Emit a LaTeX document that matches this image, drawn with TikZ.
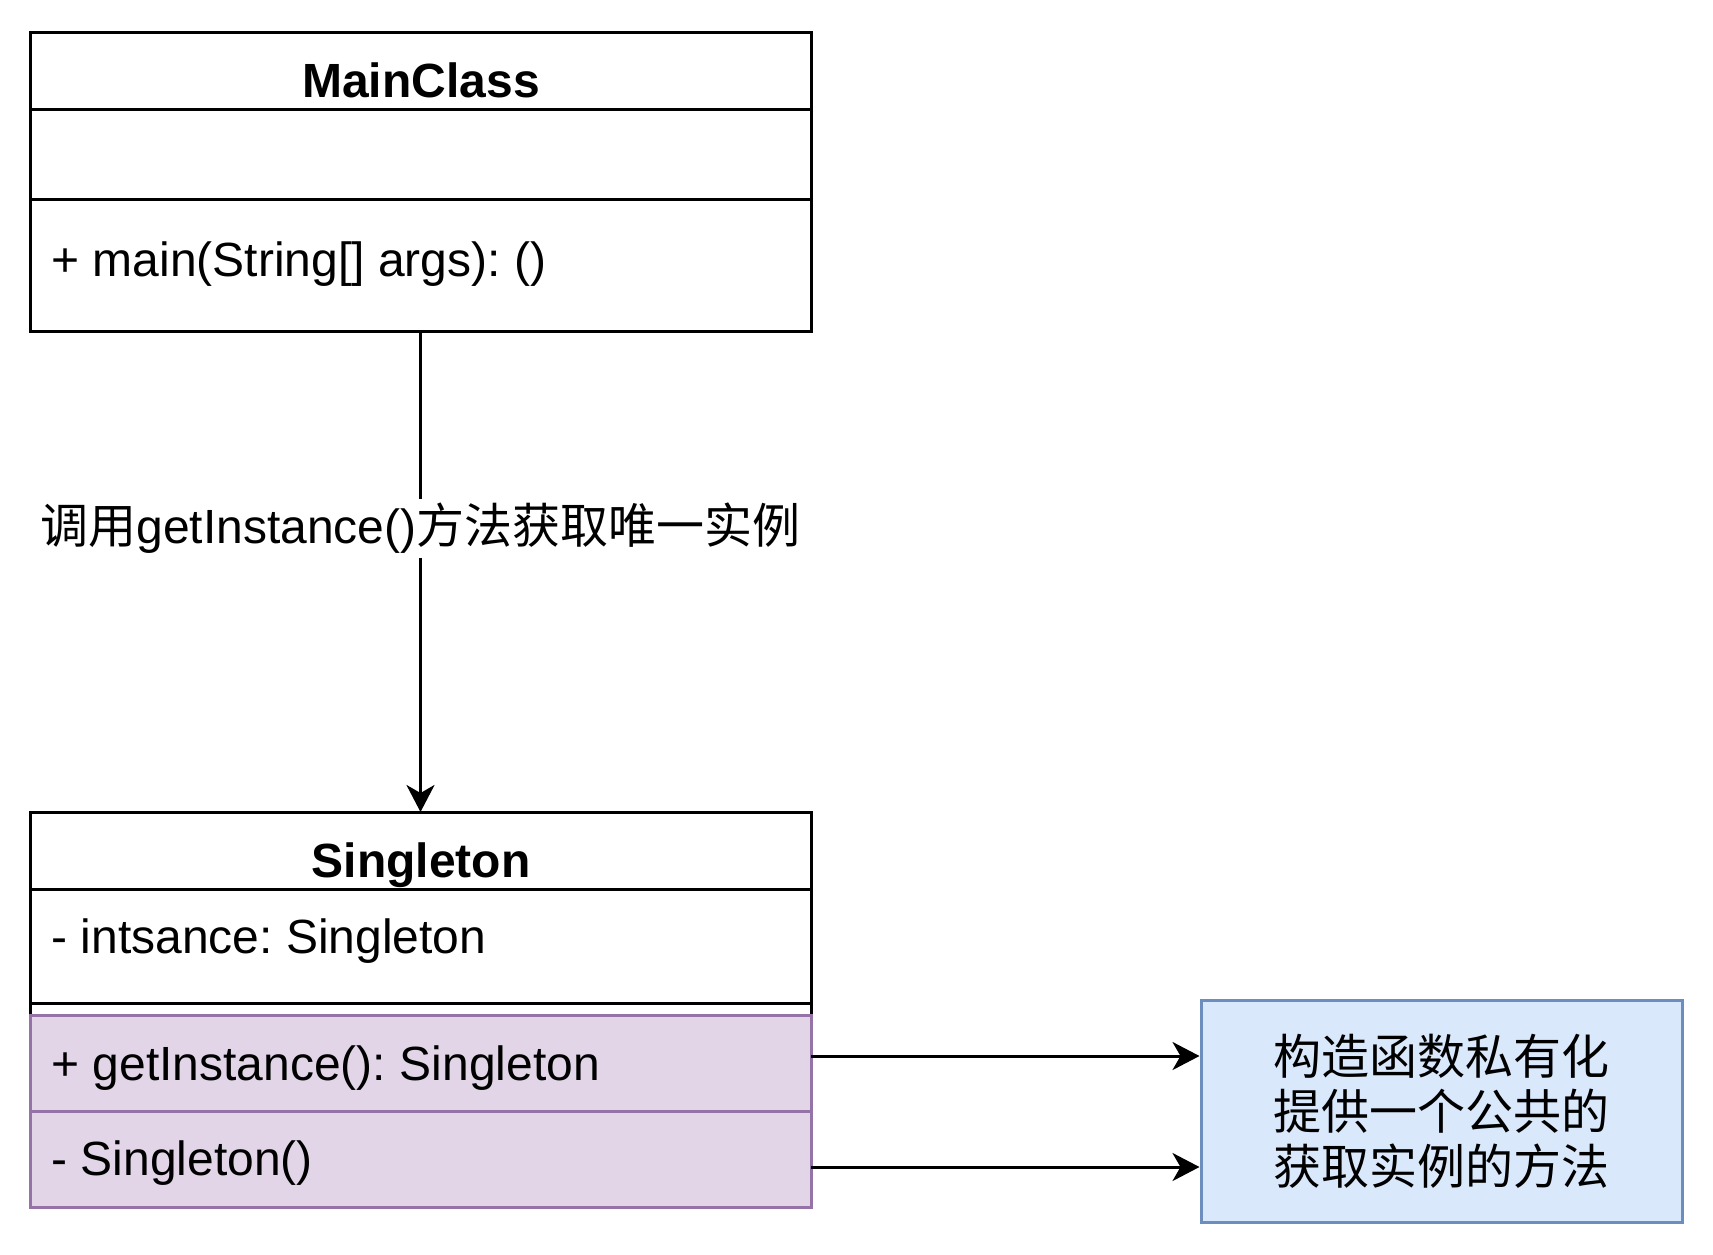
\documentclass[tikz,border=0pt]{standalone}
\usepackage{fontspec}
\setmainfont{Liberation Sans}
\newfontfamily\cjk{Noto Sans CJK SC}
\usepackage{tikz}
\usetikzlibrary{arrows.meta,positioning}
\definecolor{opfill}{HTML}{E1D5E7}
\definecolor{opline}{HTML}{9673A6}
\definecolor{notefill}{HTML}{DAE8FC}
\definecolor{noteline}{HTML}{6C8EBF}
\frenchspacing

\begin{document}
\begin{tikzpicture}[x=0.5pt,y=-0.5pt,>={Stealth[length=13.5pt,width=14pt,inset=4pt]},
                    line width=1.5pt,font=\fontsize{24}{29}\selectfont,
                    cell/.style={draw,rectangle,anchor=north west,inner sep=0pt,
                                 outer sep=0pt,minimum width=390.5pt},
                    member/.style={anchor=base west,inner sep=0pt},
                    title/.style={anchor=base,inner sep=0pt,
                                  font=\fontsize{24}{29}\selectfont\bfseries}]
  \useasboundingbox (0,0) rectangle (1713,1254);

  % MainClass
  \node[cell,minimum height=38.5pt] (mainhead) at (30,32) {};
  \node[cell,minimum height=45pt]   (mainattr) at (mainhead.south west) {};
  \node[cell,minimum height=66pt]   (mainops)  at (mainattr.south west) {};
  \node[title]  (maintitle) at (421,97)  {MainClass};
  \node[member] (mainop)    at (50,276)  {+ main(String[] args): ()};

  % Singleton
  \node[cell,minimum height=38.5pt] (sghead) at (30,812) {};
  \node[cell,minimum height=57pt]   (sgattr) at (sghead.south west) {};
  \node[cell,minimum height=6pt]    (sggap)  at (sgattr.south west) {};
  \node[cell,fill=opfill,draw=opline,minimum height=48pt] (sgget)  at (sggap.south west) {};
  \node[cell,fill=opfill,draw=opline,minimum height=48pt] (sgctor) at (sgget.south west) {};
  \node[title]  (sgtitle)   at (421,877)  {Singleton};
  \node[member] (sgfield)   at (50,953)   {- intsance: Singleton};
  \node[member] (sggettxt)  at (50,1080)  {+ getInstance(): Singleton};
  \node[member] (sgctortxt) at (50,1175)  {- Singleton()};

  % note
  \node[draw=noteline,fill=notefill,minimum width=240.5pt,minimum height=111pt,
        align=center,inner sep=0pt,font=\cjk\fontsize{24}{27.5}\selectfont]
        (note) at (1441.5,1111) {构造函数私有化\\提供一个公共的\\获取实例的方法};

  \coordinate (getout)  at ([yshift=3.5pt]sgget.east);
  \coordinate (ctorout) at ([yshift=-4pt]sgctor.east);

  \draw[->] (mainops.south) -- node[fill=white,inner xsep=0pt,inner ysep=2pt,pos=.41] (calllbl)
        {{\cjk 调用}getInstance(){\cjk 方法获取唯一实例}} (sghead.north);
  \draw[->] (getout)  -- (getout -| note.west);
  \draw[->] (ctorout) -- (ctorout -| note.west);
\end{tikzpicture}
\end{document}
